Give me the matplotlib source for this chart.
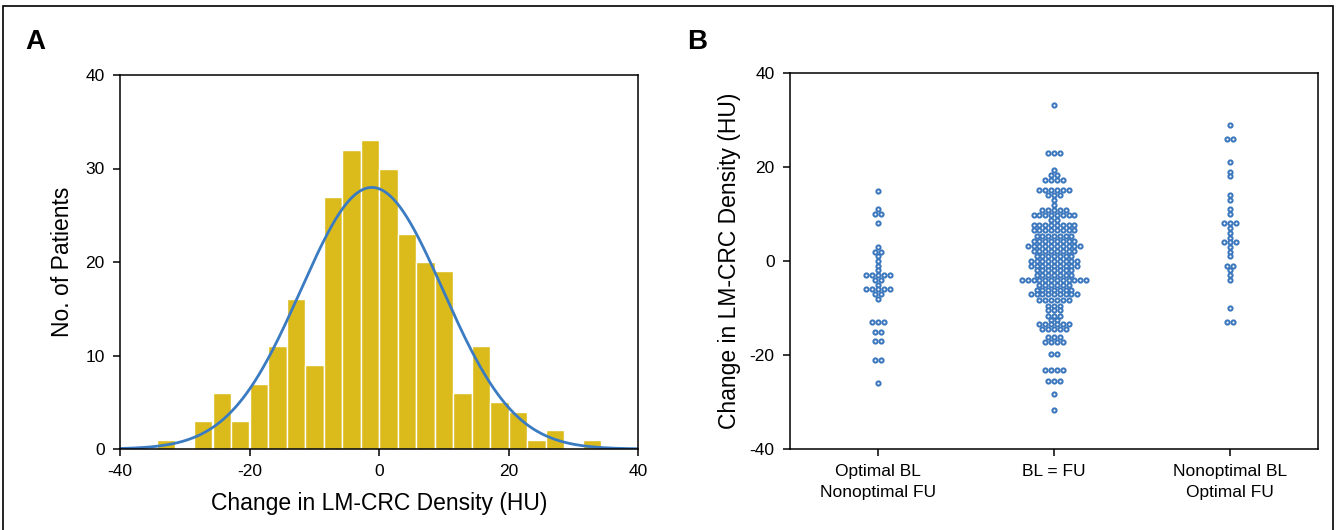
import numpy as np
import matplotlib
matplotlib.use("Agg")
import matplotlib.pyplot as plt
from matplotlib.patches import Rectangle

plt.rcParams['font.family'] = ['Liberation Sans', 'DejaVu Sans']
plt.rcParams['axes.unicode_minus'] = False

# --- panel A: histogram of change in density (bins of 80/28 HU from -40 to 40)
bin_edges = np.linspace(-40, 40, 29)
hist_counts = [0, 0, 1, 0, 3, 6, 3, 7, 11, 16, 9, 27, 32, 33, 30, 23, 20, 19,
               6, 11, 5, 4, 1, 2, 0, 1, 0, 0]
fit_mean = -1.1
fit_sd = 11.0

# --- panel B: dot plot by group (value levels and number of patients at each)
groups = ["Optimal BL\nNonoptimal FU", "BL = FU", "Nonoptimal BL\nOptimal FU"]

g1_levels = [15, 11, 10, 8, 3, 2, 1, 0, -1, -2, -3, -4, -5, -6, -7, -8,
             -13, -15, -17, -21, -26]
g1_counts = [1, 1, 2, 1, 1, 2, 1, 1, 1, 1, 5, 2, 1, 5, 2, 1,
             3, 2, 2, 2, 1]

g2_levels = [33.1, 23.0, 19.3, 18.3, 17.2, 15.2, 14.1, 13.0, 11.9, 10.9, 9.7,
             8.7, 7.6, 6.5, 5.4, 4.3, 3.1, 2.1, 1.1, 0.0, -1.0, -2.0, -3.0,
             -4.1, -5.1, -6.1, -7.1, -8.4, -9.5, -10.5, -11.6, -12.6, -13.5,
             -14.5, -16.1, -17.2, -19.7, -23.2, -25.6, -28.3, -31.8]
g2_counts = [1, 3, 1, 2, 4, 6, 3, 1, 1, 5, 8,
             2, 8, 8, 7, 8, 10, 8, 7, 9, 9, 7, 7,
             12, 6, 7, 9, 6, 3, 3, 3, 2, 6,
             5, 3, 4, 2, 4, 3, 1, 1]

g3_levels = [29, 26, 21, 19, 18, 14, 13, 11, 10, 8, 7, 6, 5, 4, 3, 2, 1,
             -1, -2, -3, -4, -10, -13]
g3_counts = [1, 2, 1, 1, 1, 1, 1, 1, 1, 3, 1, 1, 1, 3, 1, 1, 1,
             2, 1, 1, 1, 1, 2]

bar_color = "#DBBB1C"
line_color = "#3A7BC2"
dot_color = "#3B77BD"

fig = plt.figure(figsize=(13.36, 5.30), dpi=100)

# frame around the whole figure
fig.patches.append(Rectangle((3 / 1336, -0.05), 1330 / 1336, 1.05 - 6 / 530,
                             transform=fig.transFigure, fill=False,
                             edgecolor="black", linewidth=1.2))

# ---------------- A
axA = fig.add_axes([120 / 1336, 81 / 530, 518 / 1336, 374 / 530])
binw = bin_edges[1] - bin_edges[0]
centers = (bin_edges[:-1] + bin_edges[1:]) / 2
axA.bar(centers, hist_counts, width=binw, color=bar_color,
        edgecolor="white", linewidth=1.0)
xs = np.linspace(-40, 40, 400)
n_tot = sum(hist_counts)
pdf = np.exp(-0.5 * ((xs - fit_mean) / fit_sd) ** 2) / (fit_sd * np.sqrt(2 * np.pi))
axA.plot(xs, n_tot * binw * pdf, color=line_color, lw=2.0)
axA.set_xlim(-40, 40)
axA.set_ylim(0, 40)
axA.set_xticks([-40, -20, 0, 20, 40])
axA.set_yticks([0, 10, 20, 30, 40])
axA.set_xlabel("Change in LM-CRC Density (HU)", fontsize=16.5, labelpad=9)
axA.set_ylabel("No. of Patients", fontsize=16.5, labelpad=8)

# ---------------- B
axB = fig.add_axes([790 / 1336, 81 / 530, 528 / 1336, 376 / 530])
dx = 0.033
for gi, (lev, cnt) in enumerate([(g1_levels, g1_counts),
                                  (g2_levels, g2_counts),
                                  (g3_levels, g3_counts)]):
    for v, c in zip(lev, cnt):
        offs = (np.arange(c) - (c - 1) / 2) * dx
        axB.plot(gi + offs, np.full(c, v), linestyle="none", marker="o",
                 markersize=3.0, markerfacecolor="white",
                 markeredgecolor=dot_color, markeredgewidth=1.45)
axB.set_xlim(-0.5, 2.5)
axB.set_ylim(-40, 40)
axB.set_xticks(range(3))
axB.set_xticklabels(groups, linespacing=1.45)
axB.set_yticks([-40, -20, 0, 20, 40])
axB.set_ylabel("Change in LM-CRC Density (HU)", fontsize=16.5, labelpad=6)

for ax in (axA, axB):
    for s in ax.spines.values():
        s.set_linewidth(1.1)
    ax.tick_params(direction="out", length=5, width=1.1, labelsize=12.5, pad=6)

fig.text(25 / 1336, 1 - 42 / 530, "A", fontsize=20, fontweight="bold",
         va="center", ha="left")
fig.text(687 / 1336, 1 - 42 / 530, "B", fontsize=20, fontweight="bold",
         va="center", ha="left")

fig.savefig("out.png", dpi=100)
